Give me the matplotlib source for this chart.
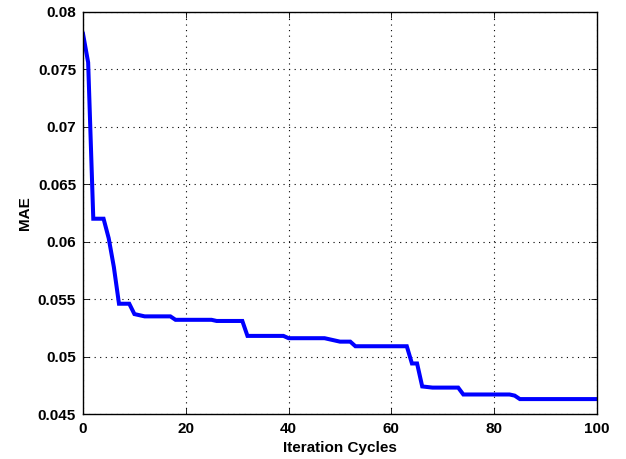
import matplotlib
matplotlib.use("Agg")
import matplotlib.pyplot as plt

# breakpoints of the MAE curve
cycles = [0, 1, 2, 4, 5, 6, 7, 9, 10, 12, 17, 18, 25, 26, 31, 32, 39, 40,
          47, 48, 50, 52, 53, 63, 64, 65, 66, 68, 73, 74, 83, 84, 85, 100]
mae = [0.0781, 0.0756, 0.0620, 0.0620, 0.0603, 0.0578, 0.0546, 0.0546,
       0.0537, 0.0535, 0.0535, 0.0532, 0.0532, 0.0531, 0.0531, 0.0518,
       0.0518, 0.0516, 0.0516, 0.0515, 0.0513, 0.0513, 0.0509, 0.0509,
       0.0494, 0.0494, 0.0474, 0.0473, 0.0473, 0.0467, 0.0467, 0.0466,
       0.0463, 0.0463]

xticks = [0, 20, 40, 60, 80, 100]
yticks = [0.045, 0.05, 0.055, 0.06, 0.065, 0.07, 0.075, 0.08]
ytick_labels = ["0.045", "0.05", "0.055", "0.06", "0.065", "0.07", "0.075", "0.08"]

plt.rcParams['font.family'] = ['Liberation Sans', 'DejaVu Sans']
plt.rcParams['font.weight'] = 'bold'

fig = plt.figure(figsize=(6.26, 4.59), dpi=100)
ax = fig.add_axes([0.1326, 0.098, 0.821, 0.876])

ax.plot(cycles, mae, color=(0, 0, 1), linewidth=2.9, solid_joinstyle='miter')

ax.set_xlim(0, 100)
ax.set_ylim(0.045, 0.08)
ax.set_xticks(xticks)
ax.set_yticks(yticks)
ax.set_yticklabels(ytick_labels)
ax.tick_params(direction='in', top=True, right=True, length=4, width=0.6,
               labelsize=11)
ax.tick_params(axis='x', pad=6)
ax.tick_params(axis='y', pad=5)
for lab in ax.get_xticklabels() + ax.get_yticklabels():
    lab.set_fontweight('bold')

ax.grid(True, color='black', linestyle=(0, (1, 4)), linewidth=0.8)
for s in ax.spines.values():
    s.set_linewidth(1.0)

ax.set_xlabel("Iteration Cycles", fontsize=11, fontweight='bold', labelpad=3)
ax.set_ylabel("MAE", fontsize=11, fontweight='bold', labelpad=4)

fig.savefig("out.png", dpi=100)
